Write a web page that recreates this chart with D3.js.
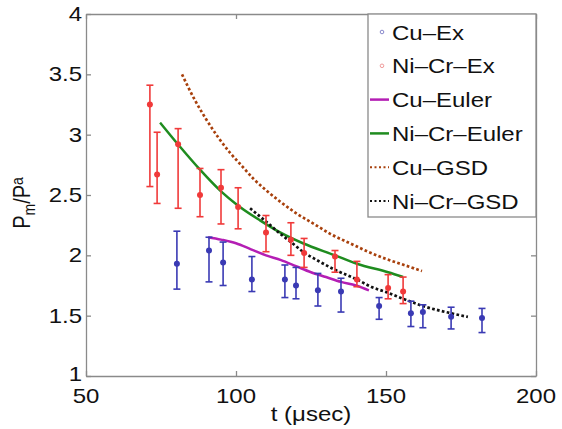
<!DOCTYPE html>
<html>
<head>
<meta charset="utf-8">
<script src="https://cdn.jsdelivr.net/npm/d3@7"></script>
<style>
  body { margin: 0; background: #fff; }
  svg { display: block; font-family: "Liberation Sans", Arial, sans-serif; }
</style>
</head>
<body>
<svg width="562" height="429"></svg>
<script>
// Cu experiment: time, mean, upper and lower error
const cuExT  = [80.3, 91, 95.7, 105.3, 116.3, 120, 127.3, 135, 147.7, 158.3, 162.3, 171.7, 182];
const cuExV  = [1.93, 2.04, 1.94, 1.80, 1.80, 1.75, 1.71, 1.70, 1.58, 1.52, 1.53, 1.49, 1.48];
const cuExHi = [2.20, 2.15, 2.11, 1.99, 1.92, 1.90, 1.85, 1.81, 1.65, 1.62, 1.59, 1.57, 1.56];
const cuExLo = [1.72, 1.78, 1.75, 1.70, 1.65, 1.64, 1.58, 1.53, 1.47, 1.41, 1.40, 1.39, 1.36];

// Ni-Cr experiment
const niExT  = [71.3, 73.7, 80.7, 88, 95, 100.7, 110, 118.3, 122.7, 133, 140.3, 150.7, 155.7];
const niExV  = [3.25, 2.67, 2.92, 2.50, 2.56, 2.40, 2.19, 2.13, 2.02, 1.99, 1.80, 1.73, 1.70];
const niExHi = [3.41, 3.02, 3.05, 2.72, 2.71, 2.56, 2.33, 2.27, 2.14, 2.04, 1.95, 1.84, 1.82];
const niExLo = [2.57, 2.43, 2.39, 2.32, 2.26, 2.22, 2.03, 2.00, 1.90, 1.86, 1.74, 1.64, 1.60];

// model curves
const cuEulerT = [90.7, 95, 100, 105, 110, 115, 120, 125, 130, 135, 140, 144.3];
const cuEulerV = [2.15, 2.13, 2.10, 2.05, 2.00, 1.96, 1.91, 1.86, 1.82, 1.78, 1.75, 1.71];
const niEulerT = [74.7, 81, 88, 95, 100.3, 108, 114.7, 122.3, 133, 140.3, 150.7, 155.7];
const niEulerV = [3.10, 2.91, 2.71, 2.53, 2.42, 2.29, 2.19, 2.10, 2.00, 1.93, 1.86, 1.82];
const cuGsdT = [82, 86, 90, 94, 98, 102, 106, 110, 115, 120, 126, 132, 138, 144, 150, 156, 162];
const cuGsdV = [3.50, 3.30, 3.13, 2.98, 2.85, 2.74, 2.63, 2.54, 2.44, 2.35, 2.26, 2.17, 2.10, 2.03, 1.97, 1.92, 1.87];
const niGsdT = [104.7, 110, 114.7, 118.3, 122.3, 127, 133, 140.3, 145, 150.7, 155.7, 162.3, 171.7, 177.3];
const niGsdV = [2.39, 2.28, 2.18, 2.11, 2.03, 1.96, 1.88, 1.80, 1.74, 1.69, 1.64, 1.58, 1.52, 1.49];

const xTicks = [50, 100, 150, 200];
const yTicks = [1, 1.5, 2, 2.5, 3, 3.5, 4];
const legendNames = ["Cu\u2013Ex", "Ni\u2013Cr\u2013Ex", "Cu\u2013Euler", "Ni\u2013Cr\u2013Euler", "Cu\u2013GSD", "Ni\u2013Cr\u2013GSD"];

const blue = "#3a3ab4", red = "#f03a3a", magenta = "#b41eb4",
      green = "#1f8c1f", brown = "#a8400c", axisCol = "#8a8a8a";
const stretch = 1.2; // the figure's text is widened horizontally

var svg = d3.select("svg");
var x = d3.scaleLinear().domain([50, 200]).range([86, 536]);
var y = d3.scaleLinear().domain([1, 4]).range([376, 14]);

function label(g, txt, px, py, anchor, size) {
  return g.append("text")
    .attr("transform", "translate(" + px + "," + py + ") scale(" + stretch + ",1)")
    .attr("text-anchor", anchor)
    .attr("font-size", size)
    .attr("fill", "#111")
    .text(txt);
}

// axes box with inward ticks
function styleAxis(g) {
  g.selectAll("path, line").attr("stroke", axisCol).attr("stroke-width", 1.3);
  g.selectAll("text").remove();
}
svg.append("g").attr("transform", "translate(0,376)")
  .call(d3.axisBottom(x).tickValues(xTicks).tickSizeInner(-5).tickSizeOuter(0)).call(styleAxis);
svg.append("g").attr("transform", "translate(0,14)")
  .call(d3.axisTop(x).tickValues(xTicks).tickSizeInner(-5).tickSizeOuter(0)).call(styleAxis);
svg.append("g").attr("transform", "translate(86,0)")
  .call(d3.axisLeft(y).tickValues(yTicks).tickSizeInner(-5).tickSizeOuter(0)).call(styleAxis);
svg.append("g").attr("transform", "translate(536,0)")
  .call(d3.axisRight(y).tickValues(yTicks).tickSizeInner(-5).tickSizeOuter(0)).call(styleAxis);

// tick labels
var labels = svg.append("g");
xTicks.forEach(function(t){ label(labels, t, x(t), 403, "middle", 20); });
yTicks.forEach(function(v){ label(labels, v, 82, y(v) + (v === 1 ? 5 : 7), "end", 20); });
label(labels, "t (\u03bcsec)", 311, 421, "middle", 20);

var ylab = svg.append("text")
  .attr("transform", "translate(30,203) rotate(-90) scale(1," + stretch + ")")
  .attr("text-anchor", "middle").attr("font-size", 20).attr("fill", "#111");
ylab.append("tspan").text("P");
ylab.append("tspan").attr("font-size", 14).attr("dy", 4).text("m");
ylab.append("tspan").attr("dy", -4).text("/P");
ylab.append("tspan").attr("font-size", 14).attr("dy", -6).text("a");

// curves
var line = d3.line().curve(d3.curveMonotoneX)
  .x(function(d){ return x(d[0]); }).y(function(d){ return y(d[1]); });
function curve(ts, vs, col, dash) {
  svg.append("path")
    .datum(d3.zip(ts, vs))
    .attr("d", line)
    .attr("fill", "none")
    .attr("stroke", col)
    .attr("stroke-width", dash ? 2.7 : 2.5)
    .attr("stroke-dasharray", dash ? "2.7,2.3" : null);
}
curve(cuGsdT, cuGsdV, brown, true);
curve(niEulerT, niEulerV, green, false);
curve(cuEulerT, cuEulerV, magenta, false);
curve(niGsdT, niGsdV, "#111", true);

// error bars
function errorBars(ts, vs, hi, lo, col) {
  var g = svg.append("g").attr("stroke", col).attr("stroke-width", 1.6);
  ts.forEach(function(t, i) {
    var cx = x(t);
    g.append("line").attr("x1", cx).attr("x2", cx).attr("y1", y(hi[i])).attr("y2", y(lo[i]));
    g.append("line").attr("x1", cx - 3.5).attr("x2", cx + 3.5).attr("y1", y(hi[i])).attr("y2", y(hi[i]));
    g.append("line").attr("x1", cx - 3.5).attr("x2", cx + 3.5).attr("y1", y(lo[i])).attr("y2", y(lo[i]));
    g.append("circle").attr("cx", cx).attr("cy", y(vs[i])).attr("r", 3).attr("fill", col).attr("stroke", "none");
  });
}
errorBars(niExT, niExV, niExHi, niExLo, red);
errorBars(cuExT, cuExV, cuExHi, cuExLo, blue);

// legend
var leg = svg.append("g");
leg.append("rect").attr("x", 368).attr("y", 14).attr("width", 168).attr("height", 203)
  .attr("fill", "#fff").attr("stroke", axisCol).attr("stroke-width", 1.3);
var markers = [
  {type: "dot", col: "#8888cc"}, {type: "dot", col: "#f09a9a"},
  {type: "line", col: magenta}, {type: "line", col: green},
  {type: "dash", col: brown}, {type: "dash", col: "#111"}
];
legendNames.forEach(function(name, i) {
  var cy = 32 + i * 33.8;
  var m = markers[i];
  if (m.type === "dot") {
    leg.append("circle").attr("cx", 382).attr("cy", cy).attr("r", 1.8)
      .attr("fill", "none").attr("stroke", m.col).attr("stroke-width", 1);
  } else {
    leg.append("line").attr("x1", 370).attr("x2", 389).attr("y1", cy).attr("y2", cy)
      .attr("stroke", m.col).attr("stroke-width", m.type === "line" ? 2.5 : 2)
      .attr("stroke-dasharray", m.type === "dash" ? "2,2.5" : null);
  }
  label(leg, name, 392, cy + 7.5, "start", 20);
});
</script>
</body>
</html>
